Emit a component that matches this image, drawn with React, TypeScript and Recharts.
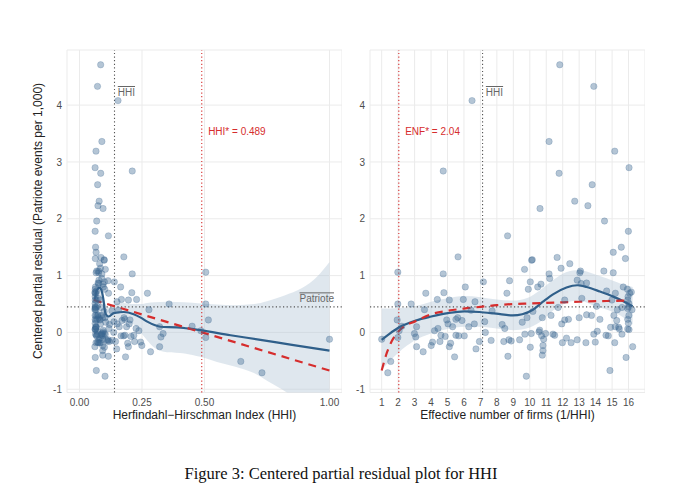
import React from 'react';
import {
  ComposedChart,
  Scatter,
  Line,
  Area,
  XAxis,
  YAxis,
  CartesianGrid,
  ReferenceLine,
} from 'recharts';

// observations read off the right panel: [effective number of firms, centered partial residual]
// the left panel shows the same observations against HHI = 1 / ENF
const residualPoints: [number, number][] = [
  [11.82, 4.71], [13.89, 4.33], [6.49, 4.08], [11.17, 3.36], [15.16, 3.19], [4.74, 2.84],
  [16.03, 2.9], [11.78, 2.8], [13.79, 2.6], [12.73, 2.31], [13.53, 2.23], [10.62, 2.18],
  [14.54, 1.96], [15.99, 1.78], [8.65, 1.7],
  [1.0, -0.12], [1.37, -0.71], [1.55, -0.51], [1.98, 1.06], [1.98, 0.5], [1.94, 0.22],
  [1.98, -0.09], [2.06, 0.03], [2.22, 0.11], [2.79, 0.5], [2.99, -0.02], [3.07, -0.08],
  [3.12, 0.1], [3.12, -0.25], [3.52, -0.34], [3.68, 0.69], [3.6, 0.4], [4.01, -0.23],
  [4.09, -0.17], [4.21, 0.03], [4.38, 0.58], [4.42, 0.07], [4.54, -0.16], [4.6, -0.05],
  [4.74, 1.03], [4.78, 0.7], [4.86, -0.07], [4.95, 0.22], [5.03, 0.15], [5.11, -0.25],
  [5.19, -0.19], [5.43, -0.43], [5.11, 0.57], [5.64, 1.33], [5.31, 0.1], [5.51, 0.23],
  [5.62, 0.26], [5.51, -0.05], [5.68, -0.06], [5.88, 0.21], [5.96, 0.58], [6.02, -0.06],
  [6.08, 0.8], [6.29, 0.1], [6.43, 0.39], [6.63, 0.15], [6.67, 0.54], [6.73, -0.29],
  [6.94, -0.16], [7.18, 0.89], [7.26, 0.19], [7.3, 0.0], [7.65, -0.14], [7.71, 0.38],
  [8.32, 0.14], [8.42, -0.16], [8.48, 0.07], [8.61, 0.69], [8.67, -0.42], [8.73, -0.13],
  [8.77, 0.91], [8.87, -0.15], [9.38, -0.13], [9.54, 0.18], [9.68, 1.11], [9.7, -0.03],
  [9.79, -0.77], [9.83, 0.26], [9.91, 0.76], [10.03, -0.26], [10.03, 0.89], [10.11, 1.27],
  [10.15, 1.28], [10.09, -0.02], [10.19, 0.37], [10.48, 0.8], [10.56, 0.01], [10.6, 0.04],
  [10.68, 0.85], [10.72, -0.06], [10.76, 0.26], [10.8, -0.23], [10.76, -0.4], [10.8, -0.32],
  [10.84, -0.12], [10.96, -0.02], [11.17, 1.03], [11.21, 0.95], [11.29, 0.3], [11.41, -0.03],
  [11.51, -0.05], [11.66, 1.32], [11.72, 0.44], [11.9, 1.13], [11.94, 0.15], [11.98, -0.18],
  [12.12, 0.22], [12.12, 0.57], [12.23, -0.1], [12.35, 0.23], [12.43, 1.21], [12.51, -0.18],
  [12.88, 0.92], [12.88, -0.13], [13.0, 0.26], [13.04, 1.05], [13.08, 1.08], [13.12, 0.86],
  [13.16, 0.6], [13.41, -0.18], [13.45, 0.87], [13.45, 0.31], [13.75, 0.3], [13.89, -0.03],
  [13.98, -0.17], [14.06, 0.46], [14.1, 0.02], [14.26, 0.23], [14.5, 1.08], [14.63, -0.05],
  [14.67, 0.73], [14.87, -0.67], [14.77, -0.06], [14.91, 0.09], [14.99, 0.57], [15.07, 1.41],
  [15.07, 1.05], [15.11, 0.3], [15.16, -0.18], [15.2, 0.1], [15.2, 0.69], [15.28, 0.21],
  [15.32, 0.4], [15.4, 0.09], [15.44, 0.06], [15.56, 1.5], [15.6, 0.44], [15.6, -0.03],
  [15.68, 0.8], [15.81, 1.3], [15.85, -0.44], [15.93, 0.76], [15.97, 0.63], [15.95, 0.57],
  [16.02, 0.51], [15.95, 0.42], [16.02, 0.3], [15.95, 0.23], [15.99, 0.16], [15.95, 0.06],
  [16.03, 0.05], [15.99, 0.45], [16.07, 0.69], [16.17, 0.71], [16.21, 0.4], [16.25, -0.25],
];

// loess smooth and its band, HHI panel
const hhiLoessX = [0.062, 0.066, 0.072, 0.08, 0.088, 0.095, 0.104, 0.117, 0.137, 0.177, 0.217, 0.245, 0.271, 0.3, 0.324, 0.39, 0.484, 0.604, 0.724, 0.85, 1.0];
const hhiLoessY = [0.58, 0.7, 0.76, 0.79, 0.74, 0.6, 0.33, 0.28, 0.34, 0.36, 0.32, 0.26, 0.19, 0.13, 0.1, 0.09, 0.04, -0.05, -0.13, -0.22, -0.32];
const hhiBandX = [0.062, 0.07, 0.08, 0.09, 0.1, 0.117, 0.137, 0.177, 0.217, 0.245, 0.271, 0.3, 0.35, 0.42, 0.484, 0.55, 0.62, 0.7, 0.75, 0.82, 0.89, 0.95, 1.0];
const hhiBandLo = [0.42, 0.56, 0.66, 0.62, 0.2, 0.12, 0.18, 0.2, 0.14, 0.0, -0.14, -0.27, -0.35, -0.37, -0.43, -0.52, -0.6, -0.72, -0.85, -1.03, -1.26, -1.54, -1.88];
const hhiBandHi = [0.78, 0.9, 0.92, 0.86, 0.55, 0.44, 0.5, 0.52, 0.5, 0.5, 0.52, 0.53, 0.54, 0.53, 0.51, 0.49, 0.48, 0.5, 0.55, 0.65, 0.78, 0.98, 1.24];
// parametric fit (red dashed), HHI panel
const hhiFitX = [0.057, 1.0];
const hhiFitY = [0.57, -0.67];

// loess smooth and its band, ENF panel
const enfLoessX = [1.0, 1.45, 2.06, 3.07, 4.01, 5.03, 6.02, 6.94, 7.96, 8.97, 9.54, 10.19, 10.8, 11.41, 12.23, 12.88, 13.45, 14.26, 15.07, 15.68, 16.25];
const enfLoessY = [-0.13, -0.03, 0.09, 0.21, 0.28, 0.34, 0.37, 0.36, 0.33, 0.3, 0.32, 0.4, 0.54, 0.67, 0.79, 0.83, 0.8, 0.72, 0.63, 0.55, 0.46];
const enfBandX = [1.0, 1.5, 2.0, 2.5, 3.0, 4.0, 5.0, 6.0, 7.0, 8.0, 9.0, 9.8, 10.6, 11.4, 12.2, 13.0, 13.9, 14.7, 15.5, 16.25];
const enfBandLo = [-0.66, -0.5, -0.36, -0.24, -0.14, -0.02, 0.06, 0.1, 0.1, 0.07, 0.04, 0.07, 0.18, 0.38, 0.52, 0.56, 0.47, 0.4, 0.3, 0.14];
const enfBandHi = [0.42, 0.42, 0.43, 0.44, 0.46, 0.54, 0.6, 0.64, 0.62, 0.58, 0.56, 0.6, 0.74, 0.92, 1.06, 1.1, 1.03, 0.95, 0.86, 0.8];
// parametric fit (red dashed), ENF panel
const enfFitX = [1, 1.3, 1.6, 2, 2.5, 3, 4, 5, 6, 7, 8, 9, 10, 11, 12, 13, 14, 15, 16];
const enfFitY = [-0.67, -0.37, -0.16, 0.01, 0.13, 0.19, 0.32, 0.38, 0.42, 0.45, 0.48, 0.5, 0.51, 0.52, 0.53, 0.54, 0.55, 0.555, 0.56];

const hhiMean = 0.14;
const hhiStar = 0.489;
const enfMean = 7.13;
const enfStar = 2.04;
const patrioteMean = 0.45;

const yTicks = [-1, 0, 1, 2, 3, 4];
const hhiTicks = [0, 0.25, 0.5, 1];
const enfTicks = [1, 2, 3, 4, 5, 6, 7, 8, 9, 10, 11, 12, 13, 14, 15, 16];

const hhiPoints = residualPoints.map(([enf, r]) => ({ x: 1 / enf, y: r }));
const enfPoints = residualPoints.map(([enf, r]) => ({ x: enf, y: r }));
const toLine = (xs: number[], ys: number[]) => xs.map((x, i) => ({ x, y: ys[i] }));
const toBand = (xs: number[], lo: number[], hi: number[]) =>
  xs.map((x, i) => ({ x, range: [lo[i], hi[i]] }));

const BLUE = '#2f5f8a';
const RED = '#d62d2d';
const tickStyle = { fontSize: 10, fill: '#4d4d4d' };

function Dot(p: any) {
  return (
    <circle cx={p.cx} cy={p.cy} r={3.2} fill="#3a6790" fillOpacity={0.38}
      stroke="#3a6790" strokeOpacity={0.4} strokeWidth={0.6} />
  );
}

function Note({ viewBox, text, dx = 0, dy = 0, color, overline, fromRight }: any) {
  if (!viewBox) return null;
  const x = fromRight ? viewBox.x + viewBox.width - dx : viewBox.x + dx;
  return (
    <text x={x} y={viewBox.y + dy} fill={color} fontSize={10}
      textAnchor={fromRight ? 'end' : 'start'}
      style={{ textDecoration: overline ? 'overline' : 'none' }}>
      {text}
    </text>
  );
}

interface PanelProps {
  left: number;
  width: number;
  yAxisWidth: number;
  xDomain: [number, number];
  xTicks: number[];
  xFormat: (v: number) => string;
  points: { x: number; y: number }[];
  loess: { x: number; y: number }[];
  band: { x: number; range: number[] }[];
  fit: { x: number; y: number }[];
  meanX: number;
  starX: number;
  starLabel: string;
  showPatriote: boolean;
}

function Panel(props: PanelProps) {
  const { left, width, yAxisWidth, xDomain, xTicks, xFormat, points, loess, band, fit } = props;
  return (
    <div style={{ position: 'absolute', left, top: 0 }}>
      <ComposedChart width={width} height={430} margin={{ top: 50, right: 0, bottom: 0, left: 0 }}>
        <CartesianGrid stroke="#ebebeb" strokeWidth={1} />
        <XAxis type="number" dataKey="x" domain={xDomain} ticks={xTicks} allowDataOverflow
          interval={0} axisLine={false} tickLine={false} tickSize={0} tickMargin={6}
          height={37.5} tick={tickStyle} tickFormatter={xFormat} />
        <YAxis type="number" dataKey="y" domain={[-1.057, 4.97]} ticks={yTicks} allowDataOverflow
          interval={0} width={yAxisWidth} axisLine={false} tickLine={false} tickSize={0}
          tickMargin={5} tick={tickStyle} />
        <Area data={band} dataKey="range" type="monotone" stroke="none" fill="#b9c9da"
          fillOpacity={0.45} isAnimationActive={false} />
        <ReferenceLine y={patrioteMean} stroke="#555" strokeWidth={1.1} strokeDasharray="1.2 2.4"
          label={props.showPatriote
            ? <Note text="Patriote" color="#666" overline fromRight dx={8} dy={-4.5} />
            : undefined} />
        <ReferenceLine x={props.meanX} stroke="#555" strokeWidth={1.1} strokeDasharray="1.2 2.4"
          label={<Note text="HHI" color="#666" overline dx={3.3} dy={46} />} />
        <ReferenceLine x={props.starX} stroke={RED} strokeWidth={1.1} strokeDasharray="1.2 2.4"
          label={<Note text={props.starLabel} color={RED} dx={6.4} dy={84.6} />} />
        <Scatter data={points} dataKey="y" shape={Dot} isAnimationActive={false} />
        <Line data={loess} dataKey="y" type="monotone" stroke={BLUE} strokeWidth={2.2}
          dot={false} activeDot={false} isAnimationActive={false} />
        <Line data={fit} dataKey="y" type="monotone" stroke={RED} strokeWidth={2.2}
          strokeDasharray="8 6" dot={false} activeDot={false} isAnimationActive={false} />
      </ComposedChart>
    </div>
  );
}

const titleStyle: React.CSSProperties = {
  position: 'absolute',
  fontSize: 12,
  color: '#222',
  whiteSpace: 'nowrap',
  transform: 'translate(-50%, -50%)',
};

export default function App() {
  return (
    <div style={{
      position: 'absolute', left: 0, top: 0, width: 680, height: 496, background: '#fff',
      fontFamily: '"Liberation Sans", Arial, sans-serif', overflow: 'hidden',
    }}>
      <Panel left={0} width={342} yAxisWidth={67} xDomain={[-0.05, 1.05]} xTicks={hhiTicks}
        xFormat={(v) => v.toFixed(2)} points={hhiPoints} loess={toLine(hhiLoessX, hhiLoessY)}
        band={toBand(hhiBandX, hhiBandLo, hhiBandHi)} fit={toLine(hhiFitX, hhiFitY)}
        meanX={hhiMean} starX={hhiStar} starLabel={`HHI* = ${hhiStar}`} showPatriote />
      <Panel left={340} width={305} yAxisWidth={30} xDomain={[0.29, 17.0]} xTicks={enfTicks}
        xFormat={(v) => String(v)} points={enfPoints} loess={toLine(enfLoessX, enfLoessY)}
        band={toBand(enfBandX, enfBandLo, enfBandHi)} fit={toLine(enfFitX, enfFitY)}
        meanX={enfMean} starX={enfStar} starLabel={`ENF* = ${enfStar}`} showPatriote={false} />
      <div style={{ ...titleStyle, left: 38, top: 221, transform: 'translate(-50%, -50%) rotate(-90deg)' }}>
        Centered partial residual (Patriote events per 1,000)
      </div>
      <div style={{ ...titleStyle, left: 204.5, top: 415 }}>Herfindahl−Hirschman Index (HHI)</div>
      <div style={{ ...titleStyle, left: 507.5, top: 415 }}>Effective number of firms (1/HHI)</div>
      <div style={{
        ...titleStyle, left: 341, top: 474, fontSize: 16.5, color: '#111',
        fontFamily: '"Liberation Serif", "DejaVu Serif", serif',
      }}>
        Figure 3: Centered partial residual plot for HHI
      </div>
    </div>
  );
}
